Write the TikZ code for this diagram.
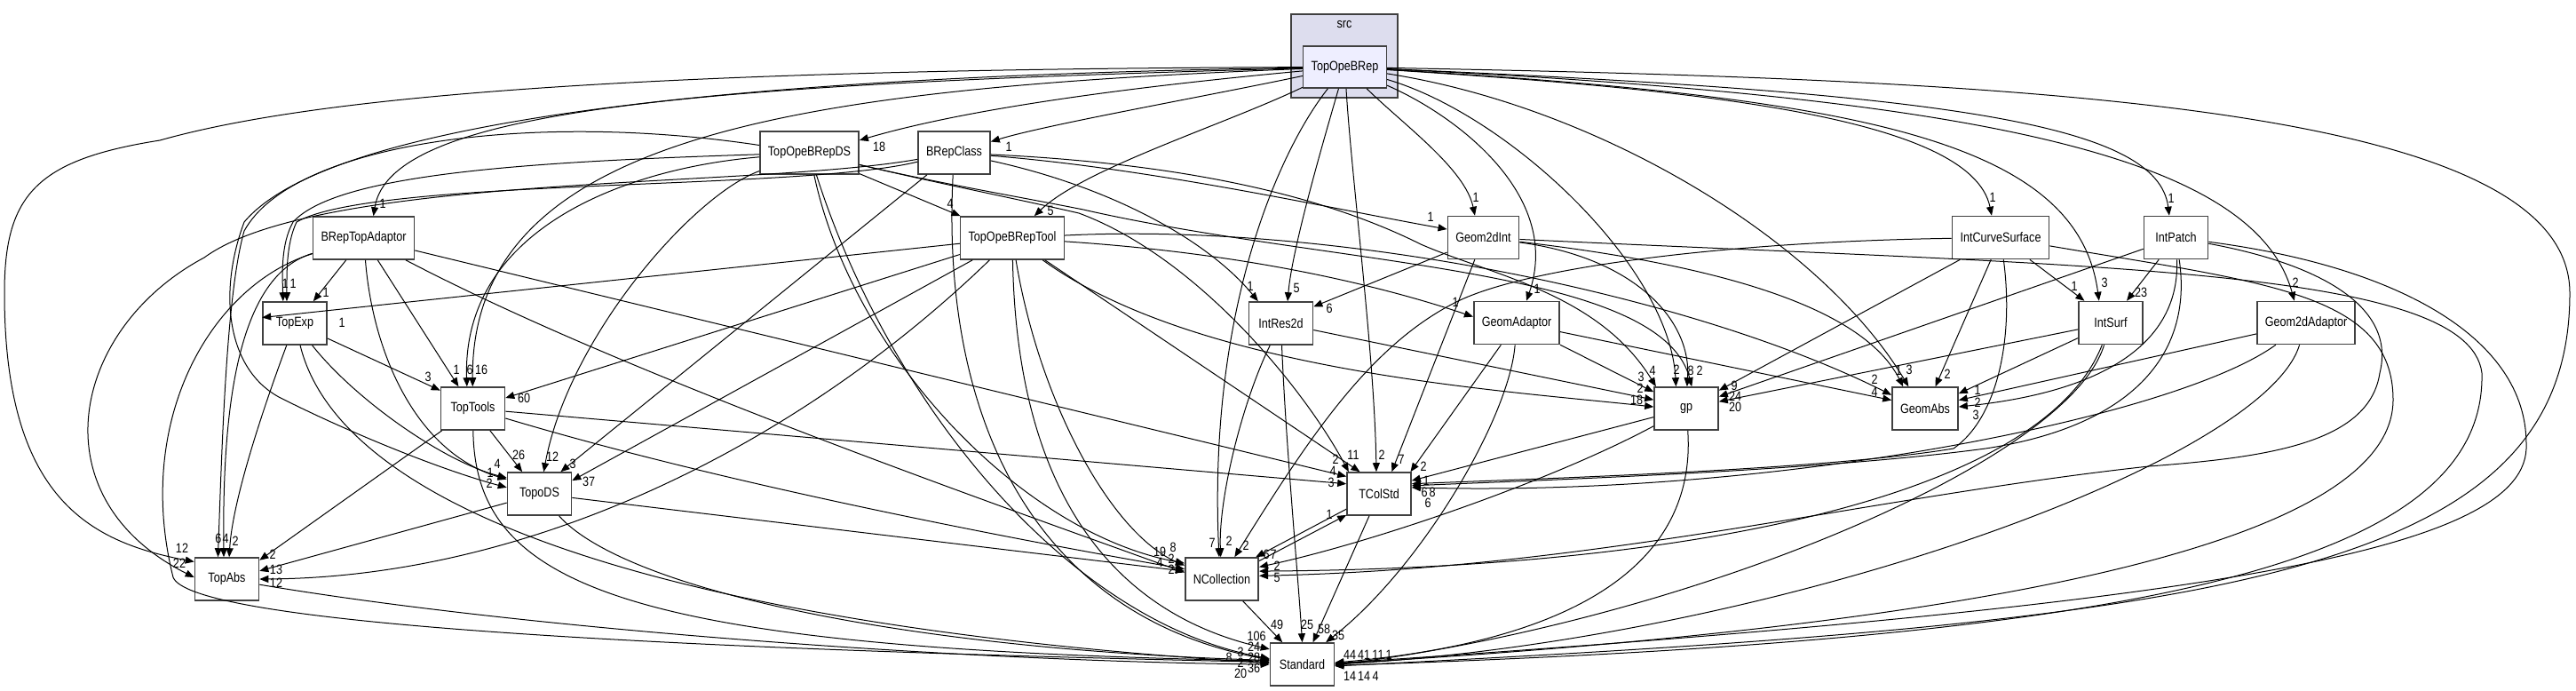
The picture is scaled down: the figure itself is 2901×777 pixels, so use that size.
\documentclass[tikz,border=0pt]{standalone}
\usepackage{fontspec}
\setmainfont{Liberation Sans}[FakeStretch=0.84]
\usetikzlibrary{arrows.meta}
\definecolor{edgegray}{RGB}{64,64,64}
\definecolor{clusfill}{RGB}{221,221,238}
\definecolor{curfill}{RGB}{238,238,255}

\begin{document}
\begin{tikzpicture}[x=1pt, y=-1pt, font=\fontsize{15}{18}\selectfont,
 pkg/.style={draw=edgegray, line width=1.6pt, fill=white, minimum width=72pt, minimum height=48pt, inner xsep=9pt, inner ysep=0pt},
 clus/.style={draw=edgegray, line width=1.6pt, fill=clusfill, minimum width=120pt, minimum height=94pt},
 cur/.style={pkg, fill=curfill, minimum height=47pt},
 arr/.style={-{Triangle[length=10pt,width=8pt]}, line width=1pt},
 num/.style={inner sep=0pt}]
\useasboundingbox (0,0) rectangle (2901,777);
\node[clus] (src) at (1514,63) {};
\node[num] (srcname) at (1514,28) {src};
\node[cur] (top) at (1514.5,75.5) {TopOpeBRep};
\node[pkg] (ds) at (911.5,172) {TopOpeBRepDS};
\node[pkg] (bcl) at (1074.5,172) {BRepClass};
\node[pkg] (bta) at (409.5,268) {BRepTopAdaptor};
\node[pkg] (tool) at (1140,268) {TopOpeBRepTool};
\node[pkg] (g2int) at (1670.5,267.5) {Geom2dInt};
\node[pkg] (ics) at (2253,267.5) {IntCurveSurface};
\node[pkg] (ipatch) at (2450.5,267.5) {IntPatch};
\node[pkg] (texp) at (332,364) {TopExp};
\node[pkg] (ires) at (1442.5,364) {IntRes2d};
\node[pkg] (gad) at (1708,363.5) {GeomAdaptor};
\node[pkg] (isurf) at (2377,363.5) {IntSurf};
\node[pkg] (g2ad) at (2597,363.5) {Geom2dAdaptor};
\node[pkg] (ttools) at (532.5,460) {TopTools};
\node[pkg] (gp) at (1899,460) {gp};
\node[pkg] (gabs) at (2168,460) {GeomAbs};
\node[pkg] (tods) at (607.5,556) {TopoDS};
\node[pkg] (tcol) at (1553,556) {TColStd};
\node[pkg] (tabs) at (255.5,652) {TopAbs};
\node[pkg] (ncol) at (1376,652) {NCollection};
\node[pkg] (std) at (1466.5,748) {Standard};

\draw[arr] (top) .. controls (1250,100) and (1080,125) .. (ds.14) node[num] at (990,165) {18};
\draw[arr] (top) .. controls (1350,110) and (1180,140) .. (bcl) node[num] at (1136,165) {1};
\draw[arr] (top) .. controls (800,95) and (440,120) .. (bta.66) node[num] at (431,229) {1};
\draw[arr] (top) .. controls (1380,140) and (1220,190) .. (tool.45) node[num] at (1183,237) {5};
\draw[arr] (top) .. controls (1580,140) and (1650,190) .. (g2int.111) node[num] at (1662,222) {1};
\draw[arr] (top) .. controls (1640,130) and (1760,220) .. (gad.66) node[num] at (1731,325) {1};
\draw[arr] (top) .. controls (1900,100) and (2220,130) .. (ics.112) node[num] at (2244,222) {1};
\draw[arr] (top) .. controls (2200,105) and (2430,140) .. (ipatch.107) node[num] at (2445,223) {1};
\draw[arr] (top) .. controls (1490,160) and (1455,280) .. (ires.73) node[num] at (1460,324) {5};
\draw[arr] (top) .. controls (2100,110) and (2340,160) .. (isurf.118) node[num] at (2370,318) {3};
\draw[arr] (top) .. controls (2250,110) and (2540,180) .. (g2ad.118) node[num] at (2585,318) {2};
\draw[arr] (top) .. controls (900,100) and (530,150) .. (ttools) node[num] at (542,416) {16};
\draw[arr] (top) .. controls (900,85) and (380,125) .. (275,250) .. controls (245,330) and (255,420) .. (320,450) .. controls (400,490) and (500,530) .. (tods.169) node[num] at (551,544) {2};
\draw[arr] (top) .. controls (700,78) and (350,110) .. (180,158) .. controls (40,180) and (5,220) .. (5,330) .. controls (5,560) and (100,610) .. (tabs.152) node[num] at (205,617) {12};
\draw[arr] (top) .. controls (1700,130) and (1880,300) .. (gp.115) node[num] at (1888,416) {2};
\draw[arr] (top) .. controls (1800,120) and (2050,270) .. (gabs.127) node[num] at (2150,416) {3};
\draw[arr] (top) .. controls (1522,200) and (1548,400) .. (tcol.97) node[num] at (1556,512) {2};
\draw[arr] (top) .. controls (1440,170) and (1360,350) .. (ncol.97) node[num] at (1365,611) {7};
\draw[arr] (top) .. controls (2300,90) and (2894,120) .. (2894,330) .. controls (2894,650) and (2500,700) .. (std.357) node[num] at (1536,737) {41};

\draw[arr] (ds) -- (tool.157) node[num] at (1070,229) {4};
\draw[arr] (ds) .. controls (600,182) and (380,195) .. (330,250) .. controls (316,275) and (318,310) .. (texp.118) node[num] at (321,319) {1};
\draw[arr] (ds) .. controls (700,190) and (520,260) .. (ttools.105) node[num] at (529,416) {6};
\draw[arr] (ds) .. controls (780,220) and (640,380) .. (tods.79) node[num] at (622,514) {12};
\draw[arr] (ds) .. controls (600,125) and (330,160) .. (275,260) .. controls (255,330) and (250,500) .. (tabs.112) node[num] at (246,606) {6};
\draw[arr] (ds) .. controls (1050,205) and (1150,225) .. (1215,240) .. controls (1350,290) and (1470,440) .. (tcol.144) node[num] at (1504,517) {2};
\draw[arr] (ds) .. controls (960,400) and (1150,600) .. (ncol.157) node[num] at (1321,616) {8};
\draw[arr] (ds) .. controls (1000,450) and (1200,700) .. (std.170) node[num] at (1412,728) {24};
\draw[arr] (ds) .. controls (1050,205) and (1150,222) .. (1220,236) .. controls (1500,300) and (1870,300) .. (gp.76) node[num] at (1914,417) {2};

\draw[arr] (bcl) .. controls (1300,190) and (1500,235) .. (g2int.167) node[num] at (1611,244) {1};
\draw[arr] (bcl) .. controls (1250,210) and (1360,270) .. (ires.136) node[num] at (1408,322) {1};
\draw[arr] (bcl) .. controls (900,215) and (420,200) .. (334,250) .. controls (322,275) and (323,310) .. (texp.110) node[num] at (330,319) {1};
\draw[arr] (bcl) .. controls (850,212) and (360,195) .. (230,290) .. controls (80,370) and (40,560) .. (tabs.177) node[num] at (202,634) {22};
\draw[arr] (bcl) -- (tods.46) node[num] at (645,522) {3};
\draw[arr] (bcl) .. controls (1350,185) and (1500,225) .. (1600,275) .. controls (1680,310) and (1800,330) .. (gp.144) node[num] at (1861,417) {4};
\draw[arr] (bcl) .. controls (1060,450) and (1150,690) .. (std.172) node[num] at (1397,734) {3};

\draw[arr] (bta) -- (texp.50) node[num] at (367,329) {1};
\draw[arr] (bta) -- (ttools.123) node[num] at (514,416) {1};
\draw[arr] (bta) .. controls (420,400) and (470,510) .. (tods.156) node[num] at (552,532) {1};
\draw[arr] (bta) .. controls (270,310) and (250,450) .. (tabs.98) node[num] at (254,606) {4};
\draw[arr] (bta) -- (tcol.152) node[num] at (1501,530) {4};
\draw[arr] (bta) .. controls (700,420) and (1100,560) .. (ncol.170) node[num] at (1319,641) {2};
\draw[arr] (bta) .. controls (240,320) and (150,470) .. (195,650) .. controls (215,700) and (700,730) .. (std.176) node[num] at (1397,746) {2};

\draw[arr] (texp) -- (ttools.151) node[num] at (482,424) {3};
\draw[arr] (texp) .. controls (400,450) and (500,520) .. (tods.154) node[num] at (560,522) {4};
\draw[arr] (texp) .. controls (300,450) and (262,560) .. (tabs.84) node[num] at (265,609) {2};
\draw[arr] (texp) .. controls (380,560) and (700,700) .. (std.178) node[num] at (1384,740) {8};

\draw[arr] (ttools) -- (tods.128) node[num] at (584,512) {26};
\draw[arr] (ttools) -- (tabs.30) node[num] at (307,624) {2};
\draw[arr] (ttools) -- (tcol.163) node[num] at (1499,543) {3};
\draw[arr] (ttools) .. controls (800,540) and (1100,600) .. (ncol.165) node[num] at (1306,633) {4};
\draw[arr] (ttools) .. controls (535,660) and (700,730) .. (std.174) node[num] at (1412,740) {28};

\draw[arr] (tods) -- (tabs.14) node[num] at (311,641) {13};
\draw[arr] (tods) -- (ncol.168) node[num] at (1319,629) {2};
\draw[arr] (tods) .. controls (700,660) and (1000,730) .. (std.173) node[num] at (1412,752) {36};
\draw[arr] (tabs) .. controls (600,710) and (1100,745) .. (std.180) node[num] at (1397,758) {20};

\draw[arr] (tool) -- (texp.170) node[num] at (385,363) {1};
\draw[arr] (tool) .. controls (1400,285) and (1550,320) .. (gad.172) node[num] at (1639,340) {1};
\draw[arr] (tool) -- (ttools.18) node[num] at (590,448) {60};
\draw[arr] (tool) .. controls (1350,420) and (1700,440) .. (gp.177) node[num] at (1843,450) {18};
\draw[arr] (tool) .. controls (1500,250) and (1900,330) .. (gabs.158) node[num] at (2111,427) {2};
\draw[arr] (tool) -- (tods.22) node[num] at (663,542) {37};
\draw[arr] (tool) .. controls (900,500) and (600,650) .. (tabs.0) node[num] at (311,656) {12};
\draw[arr] (tool) -- (tcol.131) node[num] at (1524,512) {11};
\draw[arr] (tool) .. controls (1170,450) and (1250,600) .. (ncol.160) node[num] at (1306,621) {19};
\draw[arr] (tool) .. controls (1145,550) and (1250,690) .. (std.155) node[num] at (1415,716) {106};

\draw[arr] (g2int) -- (ires.27) node[num] at (1497,347) {6};
\draw[arr] (g2int) .. controls (1840,290) and (1905,360) .. (gp.88) node[num] at (1904,417) {8};
\draw[arr] (g2int) .. controls (1950,300) and (2100,350) .. (gabs.135) node[num] at (2138,417) {1};
\draw[arr] (g2int) -- (tcol.60) node[num] at (1578,517) {7};
\draw[arr] (g2int) .. controls (2350,300) and (2780,300) .. (2795,420) .. controls (2800,640) and (2400,720) .. (std.358) node[num] at (1552,737) {11};

\draw[arr] (gad) -- (gp.153) node[num] at (1848,424) {3};
\draw[arr] (gad) -- (gabs.166) node[num] at (2111,441) {4};
\draw[arr] (gad) -- (tcol.35) node[num] at (1603,525) {2};
\draw[arr] (gad) .. controls (1700,470) and (1600,640) .. (std.43) node[num] at (1507,715) {35};

\draw[arr] (ires) -- (gp.165) node[num] at (1847,437) {2};
\draw[arr] (ires) .. controls (1400,450) and (1372,560) .. (ncol.93) node[num] at (1384,609) {2};
\draw[arr] (ires) .. controls (1448,500) and (1462,650) .. (std.north) node[num] at (1472,703) {25};

\draw[arr] (ics) -- (isurf.140) node[num] at (2336,322) {1};
\draw[arr] (ics) -- (gp.29) node[num] at (1953,434) {9};
\draw[arr] (ics) -- (gabs.65) node[num] at (2193,421) {2};
\draw[arr] (ics) .. controls (1950,272) and (1720,300) .. (1640,340) .. controls (1540,390) and (1470,500) .. (ncol.60) node[num] at (1403,614) {2};
\draw[arr] (ics) .. controls (2268,380) and (2250,470) .. (2200,505) .. controls (2050,530) and (1700,540) .. (tcol.17) node[num] at (1604,554) {6};
\draw[arr] (ics) .. controls (2550,318) and (2695,330) .. (2695,450) .. controls (2695,600) and (2300,700) .. (std.1) node[num] at (1564,737) {1};

\draw[arr] (ipatch) -- (isurf.54) node[num] at (2411,329) {23};
\draw[arr] (ipatch) -- (gp.20) node[num] at (1954,446) {24};
\draw[arr] (ipatch) .. controls (2455,380) and (2380,440) .. (gabs.3) node[num] at (2225,467) {3};
\draw[arr] (ipatch) .. controls (2470,400) and (2400,480) .. (2236,505) .. controls (2050,530) and (1750,540) .. (tcol.14) node[num] at (1613,554) {8};
\draw[arr] (ipatch) .. controls (2600,295) and (2700,340) .. (2680,420) .. controls (2668,500) and (2550,515) .. (2420,525) .. controls (2100,560) and (1800,640) .. (ncol.5) node[num] at (1438,650) {5};
\draw[arr] (ipatch) .. controls (2700,300) and (2845,380) .. (2845,500) .. controls (2850,620) and (2500,680) .. (std.2) node[num] at (1520,761) {14};

\draw[arr] (isurf) -- (gp.12) node[num] at (1954,458) {20};
\draw[arr] (isurf) -- (gabs.24) node[num] at (2227,439) {1};
\draw[arr] (isurf) .. controls (2300,560) and (1900,640) .. (ncol.12) node[num] at (1438,637) {2};
\draw[arr] (isurf) .. controls (2330,520) and (1900,700) .. (std.359) node[num] at (1536,761) {14};

\draw[arr] (g2ad) -- (gabs.14) node[num] at (2227,453) {2};
\draw[arr] (g2ad) .. controls (2450,470) and (2000,560) .. (tcol.11) node[num] at (1608,566) {6};
\draw[arr] (g2ad) .. controls (2550,520) and (2000,720) .. (std.0) node[num] at (1549,761) {4};

\draw[arr] (gp) -- (tcol.22) node[num] at (1606,541) {1};
\draw[arr] (gp) .. controls (1750,540) and (1550,610) .. (ncol.18) node[num] at (1434,624) {7};
\draw[arr] (gp) .. controls (1910,620) and (1800,720) .. (std.3) node[num] at (1520,737) {44};

\draw[arr] (tcol.205) -- (ncol.33) node[num] at (1426,624) {6};
\draw[arr] (tcol) -- (std.64) node[num] at (1491,708) {58};
\draw[arr] (ncol.26) -- (tcol.213) node[num] at (1497,579) {1};
\draw[arr] (ncol) -- (std.132) node[num] at (1438,703) {49};
\end{tikzpicture}
\end{document}
